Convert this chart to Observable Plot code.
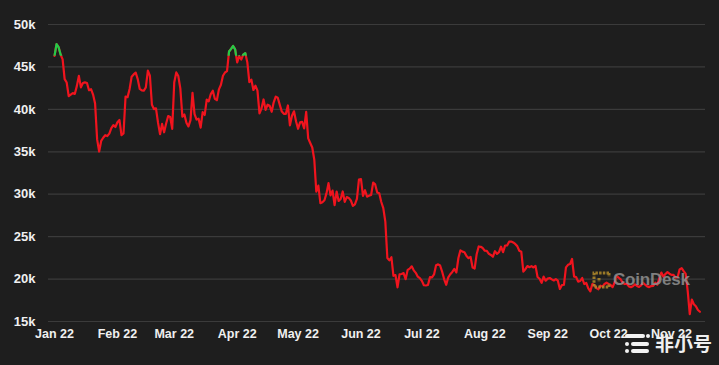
<!DOCTYPE html>
<html><head><meta charset="utf-8">
<script src="https://cdn.jsdelivr.net/npm/d3@7"></script>
<script src="https://cdn.jsdelivr.net/npm/@observablehq/plot@0.6"></script>
<style>
html,body{margin:0;padding:0;background:#1e1e1e;}
#wrap{position:relative;width:719px;height:365px;overflow:hidden;background:#1e1e1e;}
#wrap svg{display:block;}
.wm{position:absolute;pointer-events:none;}
</style></head><body><div id="wrap"></div>
<script>
// BTC/USD daily price, Jan 1 2022 → Nov 15 2022 (USD)
const startDate = Date.UTC(2022, 0, 1);
const firstPrice = [46306];
const jan = [47686,47345,46458,45898,43569,43161,41558,41734,41912,41822,42736,43949,42592,43100,43177,43113,42250,42375,41744,40680,36457,35030,36276,36654,36954,36852,37138,37784,38138,37917,38483];
const feb = [38743,36952,37154,41500,41441,42412,43840,44118,44338,43565,42407,42244,42197,42586,44575,43961,40538,40030,40122,38431,37075,38286,37296,38332,39214,39105,37709,43193];
const mar = [44354,43924,42452,39137,39400,38420,37988,38730,41941,39439,38794,38904,37849,39666,39338,41143,40951,41801,42190,41247,41077,42358,42892,43960,44348,44500,46820,47128,47465,47062,45538];
const apr = [46281,45868,46453,46622,45555,43206,43503,42287,42782,42207,39521,40127,41166,39936,40553,40424,39716,40826,41502,41374,40527,39740,39478,39469,40458,38117,39241,39773,38609,37714];
const may = [38469,38529,37750,39698,36575,36040,35501,34059,30296,31022,28936,29047,29283,30101,31305,29862,30425,28720,30314,29200,29432,30323,29098,29655,29562,29267,28627,28814,29445,31726,31792];
const jun = [29799,30467,29704,29832,29906,31370,31155,30214,30112,29083,28360,26762,22487,22206,22572,20381,20471,19017,20553,20599,20710,19987,21085,21231,21502,21027,20735,20280,20104,19785];
const jul = [19269,19243,19297,20231,20190,20548,21637,21731,21592,20860,19970,19323,20212,20569,20836,21190,20779,22485,23389,23231,23164,22714,22465,22609,21361,21239,22930,23843,23804,23656,23336];
const aug = [23314,22978,22846,22630,23289,22961,23175,23810,23164,23947,23957,24402,24424,24319,24136,23883,23335,23212,20877,21166,21534,21398,21529,21368,21559,20241,20037,19555,20285,19811,20050];
const sep = [20127,19969,19832,19986,19812,18837,19290,19329,21381,21680,21769,22370,20296,20241,19701,19772,20127,19419,19544,18890,18547,19413,19297,18937,18802,19222,19110,19426,19573,19431];
const oct = [19312,19044,19623,20336,20160,19955,19546,19416,19446,19141,19051,19157,19382,19185,19067,19268,19550,19334,19139,19053,19172,19208,19567,19345,20095,20770,20285,20595,20818,20635,20495];
const nov = [20485,20159,20209,21147,21282,20926,20602,18541,15880,17586,17034,16799,16354,16150];

const yTicks = [15000,20000,25000,30000,35000,40000,45000,50000];
const yTickLabels = ["15k","20k","25k","30k","35k","40k","45k","50k"];
const xTickLabels = ["Jan 22","Feb 22","Mar 22","Apr 22","May 22","Jun 22","Jul 22","Aug 22","Sep 22","Oct 22","Nov 22"];

const prices = [...firstPrice, ...jan, ...feb, ...mar, ...apr, ...may, ...jun, ...jul, ...aug, ...sep, ...oct, ...nov];
const data = prices.map((p, i) => ({date: new Date(startDate + i * 86400000), price: p}));
const xTicks = xTickLabels.map((_, i) => new Date(Date.UTC(2022, i, 1)));
const threshold = prices[0];

const chart = Plot.plot({
  width: 719, height: 365,
  marginTop: 24, marginBottom: 44, marginLeft: 48, marginRight: 14,
  style: {background: "#1e1e1e", color: "#f0f0f0", fontFamily: "'Liberation Sans', Arial, sans-serif", fontWeight: "bold"},
  x: {type: "utc", domain: [new Date(Date.UTC(2021, 11, 29, 1)), new Date(Date.UTC(2022, 10, 17, 18))]},
  y: {domain: [15000, 50000]},
  marks: [
    Plot.gridY(yTicks, {stroke: "#3b3b3b", strokeOpacity: 1, strokeWidth: 1.2}),
    Plot.axisY(yTicks, {tickSize: 0, tickPadding: 13, fontSize: 13, label: null,
      tickFormat: d => yTickLabels[yTicks.indexOf(d)]}),
    Plot.axisX(xTicks, {tickSize: 0, tickPadding: 8, fontSize: 12.5, label: null,
      tickFormat: d => xTickLabels[d.getUTCMonth()]}),
    Plot.line(data, {x: "date", y: "price", stroke: "#f0141e", strokeWidth: 2.2}),
    Plot.line(data, {x: "date", y: "price", stroke: "#22cc48", strokeWidth: 2.2})
  ]
});

const wrap = document.getElementById("wrap");
wrap.appendChild(chart);
const svg = chart.tagName.toLowerCase() === "svg" ? chart : chart.querySelector("svg");
const ty = chart.scale("y").apply(threshold);
const ns = "http://www.w3.org/2000/svg";
const defs = document.createElementNS(ns, "defs");
const cp = document.createElementNS(ns, "clipPath");
cp.setAttribute("id", "aboveStart");
const r = document.createElementNS(ns, "rect");
r.setAttribute("x", 0); r.setAttribute("y", 0);
r.setAttribute("width", 719); r.setAttribute("height", ty);
cp.appendChild(r); defs.appendChild(cp); svg.insertBefore(defs, svg.firstChild);
const lines = svg.querySelectorAll('g[aria-label="line"]');
if (lines.length > 1) lines[1].setAttribute("clip-path", "url(#aboveStart)");

// watermarks
const cd = document.createElement("div");
cd.className = "wm";
cd.style.cssText = "left:590px;top:269px;display:flex;align-items:center;opacity:0.85;";
cd.innerHTML = '<svg width="22" height="22"><path d="M19 4 H4 V18 H19 M19 4 V8 M19 18 V14 M9 9 V13" fill="none" stroke="#b08a2a" stroke-width="3" stroke-dasharray="2.5 1.2"/></svg>' +
  '<span style="font:bold 17px \'Liberation Sans\',Arial,sans-serif;color:#909090;margin-left:1px;letter-spacing:-0.2px">CoinDesk</span>';
wrap.appendChild(cd);

const fx = document.createElement("div");
fx.className = "wm";
fx.style.cssText = "left:624px;top:332px;width:95px;height:24px;";
fx.innerHTML = '<svg width="30" height="22" style="position:absolute;left:0;top:1px">' +
  '<line x1="3" y1="3" x2="19" y2="3" stroke="#f2f2f2" stroke-width="4" stroke-linecap="round"/>' +
  '<circle cx="24" cy="3" r="2" fill="#f2f2f2"/>' +
  '<circle cx="3" cy="11" r="2" fill="#f2f2f2"/>' +
  '<line x1="9" y1="11" x2="23" y2="11" stroke="#f2f2f2" stroke-width="4" stroke-linecap="round"/>' +
  '<circle cx="3" cy="18" r="2" fill="#f2f2f2"/>' +
  '<line x1="9" y1="18" x2="23" y2="18" stroke="#f2f2f2" stroke-width="4" stroke-linecap="round"/></svg>' +
  '<span style="position:absolute;left:31px;top:0px;font:bold 19px \'Noto Sans CJK SC\',sans-serif;color:#efefef;line-height:22px">非小号</span>';
wrap.appendChild(fx);
</script></body></html>
